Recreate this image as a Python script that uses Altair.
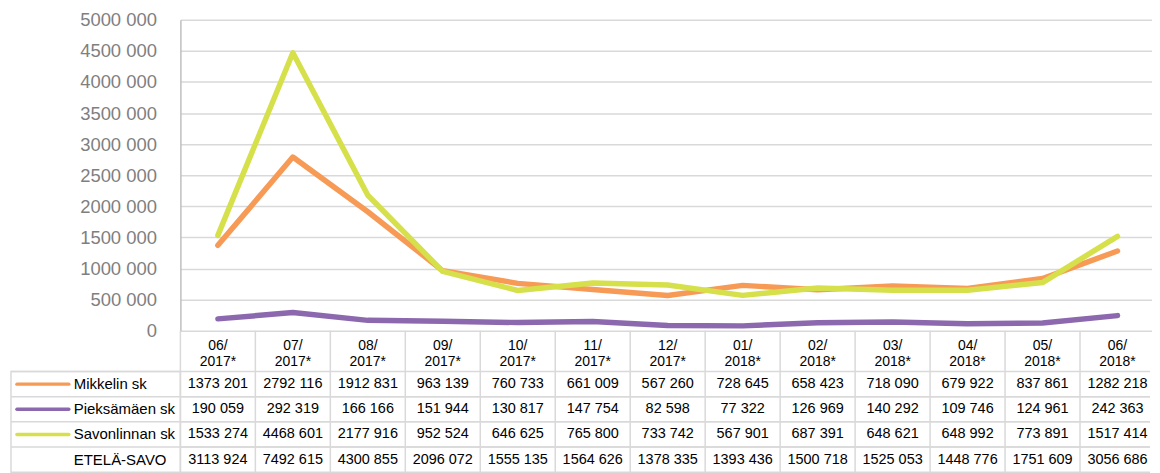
import altair as alt
import pandas as pd

FONT = "Liberation Sans"

months = ["06/\n2017*", "07/\n2017*", "08/\n2017*", "09/\n2017*", "10/\n2017*", "11/\n2017*",
          "12/\n2017*", "01/\n2018*", "02/\n2018*", "03/\n2018*", "04/\n2018*", "05/\n2018*", "06/\n2018*"]

series = ["Mikkelin sk", "Pieksämäen sk", "Savonlinnan sk"]
total_label = "ETELÄ-SAVO"
colors = ["#f79a56", "#8c69ae", "#d5e04a"]

mikkeli = [1373201, 2792116, 1912831, 963139, 760733, 661009, 567260, 728645, 658423, 718090, 679922, 837861, 1282218]
pieksamaki = [190059, 292319, 166166, 151944, 130817, 147754, 82598, 77322, 126969, 140292, 109746, 124961, 242363]
savonlinna = [1533274, 4468601, 2177916, 952524, 646625, 765800, 733742, 567901, 687391, 648621, 648992, 773891, 1517414]
etela_savo = [3113924, 7492615, 4300855, 2096072, 1555135, 1564626, 1378335, 1393436, 1500718, 1525053, 1448776, 1751609, 3056686]

y_ticks = [0, 500000, 1000000, 1500000, 2000000, 2500000, 3000000, 3500000, 4000000, 4500000, 5000000]


def fmt(v):
    return f"{v // 1000} {v % 1000:03d}" if v >= 1000 else str(v)


line_rows = []
for name, vals in zip(series, [mikkeli, pieksamaki, savonlinna]):
    for m, v in zip(months, vals):
        line_rows.append({"month": m, "series": name, "value": v})
line_df = pd.DataFrame(line_rows)

table_rows = series + [total_label]
tab = []
for name, vals in zip(table_rows, [mikkeli, pieksamaki, savonlinna, etela_savo]):
    for m, v in zip(months, vals):
        tab.append({"month": m, "row": name, "text": fmt(v)})
table_df = pd.DataFrame(tab)
month_df = pd.DataFrame({"month": months})
rows_df = pd.DataFrame({"row": table_rows})
swatch_df = pd.DataFrame({"row": series, "series": series})

GRID = "#d9d9d9"
W = 973          # visible width of the plot/table
FULL = 978       # full width of the 13 columns
LW = 170

band_x = alt.Scale(type="band", paddingInner=0, paddingOuter=0, range=[0, FULL])
band_y = alt.Scale(type="band", paddingInner=0, paddingOuter=0)
color_scale = alt.Scale(domain=series, range=colors)


def blank(h):
    return alt.Chart(pd.DataFrame({"b": [0]})).mark_text(text="").encode(
        x=alt.value(0), y=alt.value(0)
    ).properties(width=LW, height=h, view=alt.ViewBackground(stroke="transparent"))


line = alt.Chart(line_df).mark_line(strokeWidth=5.5, strokeCap="round", strokeJoin="round").encode(
    x=alt.X("month:N", sort=months, axis=None,
            scale=alt.Scale(type="point", padding=0.5, range=[0, FULL])),
    y=alt.Y("value:Q", scale=alt.Scale(domain=[0, 5000000], nice=False),
            axis=alt.Axis(values=y_ticks, title=None, domain=True, domainColor="#bfbfbf",
                          domainWidth=1.5, ticks=False, grid=True,
                          gridColor=GRID, gridWidth=1.5, labelFont=FONT, labelFontSize=18.5,
                          labelColor="#7f7f7f", labelPadding=24,
                          labelExpr="datum.value == 0 ? '0' : floor(datum.value / 1000) + ' 000'")),
    color=alt.Color("series:N", scale=color_scale, legend=None),
).properties(width=W, height=312, view=alt.ViewBackground(stroke="transparent"))

# header row
head_text = alt.Chart(month_df).mark_text(font=FONT, fontSize=14, lineBreak="\n", lineHeight=16,
                                          baseline="middle", dy=-5, color="#000000").encode(
    x=alt.X("month:N", sort=months, scale=band_x, axis=None, bandPosition=0.5),
    text="month:N",
)
head_rules = alt.Chart(month_df).mark_rule(color=GRID, strokeWidth=1.5).encode(
    x=alt.X("month:N", sort=months, scale=band_x, axis=None, bandPosition=0),
)
header = alt.layer(head_rules, head_text).properties(
    width=W, height=41, view=alt.ViewBackground(stroke="transparent"))

# body
body_text = alt.Chart(table_df).mark_text(font=FONT, fontSize=14.5, color="#000000").encode(
    x=alt.X("month:N", sort=months, scale=band_x, axis=None, bandPosition=0.5),
    y=alt.Y("row:N", sort=table_rows, scale=band_y, axis=None, bandPosition=0.5),
    text="text:N",
)
body_vr = alt.Chart(month_df).mark_rule(color=GRID, strokeWidth=1.5).encode(
    x=alt.X("month:N", sort=months, scale=band_x, axis=None, bandPosition=0),
)
body_hr_top = alt.Chart(rows_df).mark_rule(color=GRID, strokeWidth=1.5).encode(
    y=alt.Y("row:N", sort=table_rows, scale=band_y, axis=None, bandPosition=0),
)
body_hr_bot = alt.Chart(rows_df).mark_rule(color=GRID, strokeWidth=1.5).encode(
    y=alt.Y("row:N", sort=table_rows, scale=band_y, axis=None, bandPosition=1),
)
body = alt.layer(body_vr, body_hr_top, body_hr_bot, body_text).properties(
    width=W, height=101, view=alt.ViewBackground(stroke="transparent"))

# legend column
leg_hr = alt.Chart(rows_df).mark_rule(color=GRID, strokeWidth=1.5).encode(
    y=alt.Y("row:N", sort=table_rows, scale=band_y, axis=None, bandPosition=0),
)
leg_sw = alt.Chart(swatch_df).mark_rule(strokeWidth=3.5, strokeCap="round").encode(
    x=alt.value(6), x2=alt.value(58),
    y=alt.Y("row:N", sort=table_rows, scale=band_y, axis=None, bandPosition=0.5),
    color=alt.Color("series:N", scale=color_scale, legend=None),
)
leg_text = alt.Chart(rows_df).mark_text(font=FONT, fontSize=15, align="left", color="#000000").encode(
    x=alt.value(63),
    y=alt.Y("row:N", sort=table_rows, scale=band_y, axis=None, bandPosition=0.5),
    text="row:N",
)
legend = alt.layer(leg_hr, leg_sw, leg_text).properties(
    width=LW, height=101, view=alt.ViewBackground(stroke=GRID, strokeWidth=1.5))

chart = alt.concat(
    blank(312), line, blank(41), header, legend, body,
    columns=2, spacing=0, bounds="flush", align="each",
    padding={"left": 1, "top": 1, "right": 0, "bottom": 0},
).resolve_scale(x="independent", y="independent")

chart.save("out.html", embed_options={"renderer": "svg", "actions": False})
